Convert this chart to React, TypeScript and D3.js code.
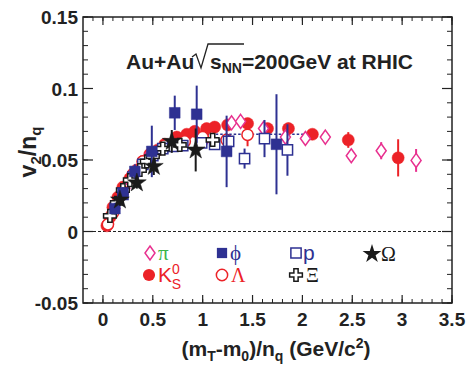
import React from "react";
import * as d3 from "d3";

// [x, y, err]
const pionData: number[][] = [
  [0.05, 0.006, 0], [0.12, 0.016, 0], [0.22, 0.030, 0], [0.32, 0.041, 0],
  [0.45, 0.052, 0], [1.02, 0.064, 0], [1.29, 0.076, 0.003], [1.38, 0.077, 0.003],
  [1.61, 0.072, 0.003], [1.83, 0.066, 0.003], [2.03, 0.065, 0.002], [2.23, 0.066, 0.002],
  [2.49, 0.053, 0.003], [2.79, 0.0565, 0.006], [3.14, 0.0497, 0.008],
];
const kaonData: number[][] = [
  [0.04, 0.004, 0], [0.07, 0.010, 0], [0.10, 0.017, 0], [0.15, 0.024, 0],
  [0.20, 0.031, 0], [0.27, 0.037, 0], [0.34, 0.043, 0], [0.40, 0.049, 0],
  [0.47, 0.054, 0], [0.55, 0.057, 0], [0.62, 0.061, 0], [0.74, 0.066, 0],
  [0.84, 0.068, 0], [0.92, 0.070, 0], [1.04, 0.072, 0], [1.12, 0.073, 0],
  [1.25, 0.0745, 0.002], [1.45, 0.0755, 0.002], [1.65, 0.072, 0.003],
  [1.86, 0.072, 0.004], [2.10, 0.068, 0.003], [2.46, 0.064, 0.0055],
  [2.96, 0.0515, 0.013],
];
const phiData: number[][] = [
  [0.12, 0.016, 0.004], [0.20, 0.027, 0.004], [0.32, 0.042, 0.005],
  [0.49, 0.056, 0.018], [0.72, 0.083, 0.012], [0.94, 0.082, 0.020],
  [1.24, 0.056, 0.025], [1.74, 0.061, 0.035],
];
const protonData: number[][] = [
  [0.20, 0.026, 0], [0.30, 0.038, 0], [0.40, 0.047, 0], [0.50, 0.053, 0],
  [0.60, 0.058, 0], [0.70, 0.0595, 0], [0.80, 0.060, 0], [0.99, 0.062, 0.003],
  [1.12, 0.061, 0.003], [1.26, 0.063, 0.005], [1.42, 0.051, 0.007],
  [1.62, 0.065, 0.013], [1.85, 0.057, 0.018],
];
const lambdaData: number[][] = [
  [0.05, 0.005, 0], [0.10, 0.013, 0], [0.20, 0.028, 0], [0.30, 0.040, 0],
  [0.40, 0.049, 0], [0.50, 0.055, 0], [0.62, 0.060, 0], [0.82, 0.063, 0],
  [1.00, 0.066, 0], [1.24, 0.064, 0.004], [1.45, 0.0676, 0.008],
];
const xiData: number[][] = [
  [0.07, 0.011, 0], [0.14, 0.020, 0], [0.20, 0.029, 0], [0.27, 0.036, 0],
  [0.37, 0.043, 0], [0.44, 0.049, 0], [0.50, 0.0525, 0], [0.60, 0.058, 0],
  [0.77, 0.0606, 0.003], [1.10, 0.064, 0.004],
];
const omegaData: number[][] = [
  [0.17, 0.022, 0.004], [0.34, 0.034, 0.004], [0.51, 0.0455, 0.006],
  [0.69, 0.063, 0.008], [0.93, 0.057, 0.015],
];

const fitLineY = 0.068;
const fitLineX = [0.95, 2.05];

const xMajorTicks = [0, 0.5, 1, 1.5, 2, 2.5, 3, 3.5];
const xTickLabels = ["0", "0.5", "1", "1.5", "2", "2.5", "3", "3.5"];
const yMajorTicks = [-0.05, 0, 0.05, 0.1, 0.15];
const yTickLabels = ["-0.05", "0", "0.05", "0.1", "0.15"];

const RED = "#ec2227";
const NAVY = "#2e3192";
const MAGENTA = "#e8308f";
const GREEN = "#3cb54a";
const BLACK = "#1a1a1a";

const L = 83, R = 452, T = 17, B = 303;

// wider diamond (half-width 5, half-height 7 at size 70)
const wideDiamond: d3.SymbolType = {
  draw(ctx: any, size: number) {
    const k = Math.sqrt(size / 70);
    const w = 5 * k, h = 7 * k;
    ctx.moveTo(0, -h); ctx.lineTo(w, 0); ctx.lineTo(0, h); ctx.lineTo(-w, 0); ctx.closePath();
  },
};

type Series = {
  key: string; data: number[][]; type: d3.SymbolType; size: number;
  fill: string; stroke: string; sw: number; ecol: string;
};

export default function App() {
  const x = d3.scaleLinear().domain([-0.2, 3.5]).range([L, R]);
  const y = d3.scaleLinear().domain([-0.05, 0.15]).range([B, T]);

  const series: Series[] = [
    { key: "K", data: kaonData, type: d3.symbolCircle, size: 115, fill: RED, stroke: RED, sw: 0.5, ecol: RED },
    { key: "pi", data: pionData, type: wideDiamond, size: 70, fill: "white", stroke: MAGENTA, sw: 1.5, ecol: MAGENTA },
    { key: "L", data: lambdaData, type: d3.symbolCircle, size: 100, fill: "white", stroke: RED, sw: 1.5, ecol: RED },
    { key: "p", data: protonData, type: d3.symbolSquare, size: 105, fill: "white", stroke: NAVY, sw: 1.5, ecol: NAVY },
    { key: "xi", data: xiData, type: d3.symbolCross, size: 90, fill: "white", stroke: BLACK, sw: 1.5, ecol: BLACK },
    { key: "phi", data: phiData, type: d3.symbolSquare, size: 115, fill: NAVY, stroke: NAVY, sw: 0.5, ecol: NAVY },
    { key: "om", data: omegaData, type: d3.symbolStar, size: 110, fill: BLACK, stroke: BLACK, sw: 0.5, ecol: BLACK },
  ];

  const xMinor = d3.range(-1, 36).map((i) => i / 10);
  const yMinor = d3.range(-5, 16).map((i) => i / 100);

  const sym = (t: d3.SymbolType, s: number) => d3.symbol().type(t).size(s)() || "";

  const font = "Liberation Sans, Arial, Helvetica, sans-serif";
  const serif = "Liberation Serif, DejaVu Serif, serif";

  return (
    <svg width={466} height={368} style={{ position: "absolute", left: 0, top: 0 }} fontFamily={font}>
      <rect width={466} height={368} fill="white" />
      {/* zero line */}
      <line x1={L} x2={R} y1={y(0)} y2={y(0)} stroke="#222" strokeWidth={1} strokeDasharray="3,2" />
      {/* fit line */}
      <line x1={x(fitLineX[0])} x2={x(fitLineX[1])} y1={y(fitLineY)} y2={y(fitLineY)} stroke={NAVY} strokeWidth={1.6} strokeDasharray="2.5,2" />

      {/* data */}
      {series.map((s) => (
        <g key={s.key}>
          {s.data.filter((d) => d[2] > 0).map((d, i) => (
            <line key={"e" + i} x1={x(d[0])} x2={x(d[0])} y1={y(d[1] - d[2])} y2={y(d[1] + d[2])} stroke={s.ecol} strokeWidth={2} />
          ))}
          {s.data.map((d, i) => (
            <path key={i} d={sym(s.type, s.size)} transform={`translate(${x(d[0])},${y(d[1])})`} fill={s.fill} stroke={s.stroke} strokeWidth={s.sw} />
          ))}
        </g>
      ))}

      {/* frame */}
      <rect x={L} y={T} width={R - L} height={B - T} fill="none" stroke="#222" strokeWidth={1.5} />
      {/* x ticks */}
      {xMinor.map((v, i) => (
        <g key={"xm" + i}>
          <line x1={x(v)} x2={x(v)} y1={B} y2={B - 4} stroke="#222" strokeWidth={1} />
          <line x1={x(v)} x2={x(v)} y1={T} y2={T + 4} stroke="#222" strokeWidth={1} />
        </g>
      ))}
      {xMajorTicks.map((v, i) => (
        <g key={"xM" + i}>
          <line x1={x(v)} x2={x(v)} y1={B} y2={B - 8} stroke="#222" strokeWidth={1.2} />
          <line x1={x(v)} x2={x(v)} y1={T} y2={T + 8} stroke="#222" strokeWidth={1.2} />
          <text x={x(v)} y={326} textAnchor="middle" fontSize={19} fontWeight="bold" fill="#222">{xTickLabels[i]}</text>
        </g>
      ))}
      {/* y ticks */}
      {yMinor.map((v, i) => (
        <g key={"ym" + i}>
          <line x1={L} x2={L + 5} y1={y(v)} y2={y(v)} stroke="#222" strokeWidth={1} />
          <line x1={R} x2={R - 5} y1={y(v)} y2={y(v)} stroke="#222" strokeWidth={1} />
        </g>
      ))}
      {yMajorTicks.map((v, i) => (
        <g key={"yM" + i}>
          <line x1={L} x2={L + 10} y1={y(v)} y2={y(v)} stroke="#222" strokeWidth={1.2} />
          <line x1={R} x2={R - 10} y1={y(v)} y2={y(v)} stroke="#222" strokeWidth={1.2} />
          <text x={78} y={y(v) + 7} textAnchor="end" fontSize={19} fontWeight="bold" fill="#222">{yTickLabels[i]}</text>
        </g>
      ))}

      {/* title */}
      <g fontWeight="bold" fill="#222" fontSize={21}>
        <text x={126} y={69}>Au+Au</text>
        <path d="M192,57 L196,54 L201,68 L208,44 L244,44" fill="none" stroke="#222" strokeWidth={1.3} />
        <text x={210} y={69}>s<tspan fontSize={14} dy={4}>NN</tspan><tspan dy={-4}>=200GeV at RHIC</tspan></text>
      </g>

      {/* legend */}
      <g>
        <path d={sym(wideDiamond, 70)} transform="translate(150,253)" fill="white" stroke={MAGENTA} strokeWidth={1.5} />
        <text x={158} y={260} fontSize={21} fill={GREEN} fontFamily={serif}>π</text>
        <path d={sym(d3.symbolCircle, 115)} transform="translate(149,275)" fill={RED} />
        <text x={158} y={282} fontSize={21} fill={RED}>K<tspan fontSize={14} dy={-8}>0</tspan><tspan fontSize={14} dx={-8} dy={15}>S</tspan></text>

        <path d={sym(d3.symbolSquare, 105)} transform="translate(222,253)" fill={NAVY} />
        <text x={230} y={260} fontSize={21} fill={NAVY} fontFamily={serif}>ϕ</text>
        <path d={sym(d3.symbolCircle, 100)} transform="translate(222,275)" fill="white" stroke={RED} strokeWidth={1.5} />
        <text x={231} y={282} fontSize={20} fill={RED} fontFamily={serif}>Λ</text>

        <path d={sym(d3.symbolSquare, 105)} transform="translate(296,253)" fill="white" stroke={NAVY} strokeWidth={1.5} />
        <text x={303} y={260} fontSize={21} fill={NAVY}>p</text>
        <path d={sym(d3.symbolCross, 90)} transform="translate(296,275)" fill="white" stroke={BLACK} strokeWidth={1.5} />
        <text x={306} y={282} fontSize={20} fill={BLACK} fontFamily={serif}>Ξ</text>

        <path d={sym(d3.symbolStar, 110)} transform="translate(372,254)" fill={BLACK} />
        <text x={381} y={261} fontSize={20} fill={BLACK} fontFamily={serif}>Ω</text>
      </g>

      {/* axis labels */}
      <text x={276} y={356} textAnchor="middle" fontSize={21} fontWeight="bold" fill="#222">
        (m<tspan fontSize={14} dy={5}>T</tspan><tspan dy={-5}>-m</tspan><tspan fontSize={14} dy={5}>0</tspan><tspan dy={-5}>)/n</tspan><tspan fontSize={14} dy={5}>q</tspan><tspan dy={-5}> (GeV/c</tspan><tspan fontSize={14} dy={-8}>2</tspan><tspan dy={8}>)</tspan>
      </text>
      <text transform="translate(36,152) rotate(-90)" textAnchor="middle" fontSize={23} fontWeight="bold" fill="#222">
        v<tspan fontSize={15} dy={5}>2</tspan><tspan dy={-5}>/n</tspan><tspan fontSize={15} dy={5}>q</tspan>
      </text>
    </svg>
  );
}
